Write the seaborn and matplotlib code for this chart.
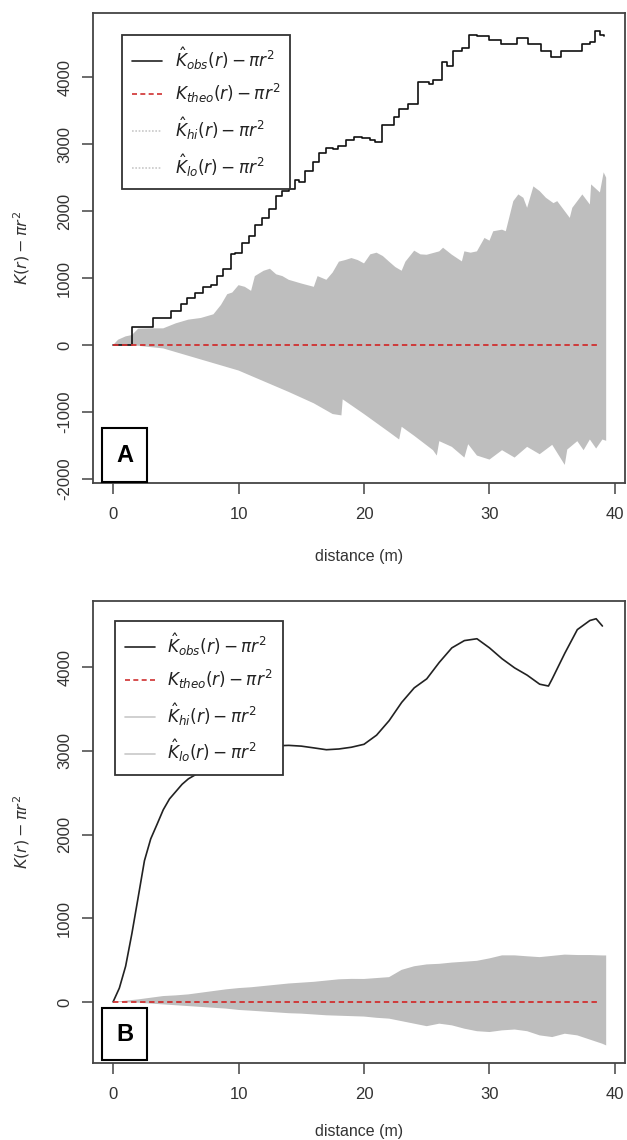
import matplotlib
matplotlib.use("Agg")
import matplotlib.pyplot as plt
import seaborn as sns
import numpy as np
import pandas as pd
from matplotlib.patches import Rectangle
from matplotlib.lines import Line2D

# ---------------- data: panel A ----------------
A_obs_r = [0, 1.4, 1.5, 2.9, 3.2, 4.2, 4.6, 5.4, 5.9, 6.5, 7.2, 7.8, 8.3, 8.8, 9.4, 9.7,
           10.3, 10.8, 11.3, 11.9, 12.4, 13.0, 13.5, 14.0, 14.5, 14.8, 15.3, 15.9, 16.4,
           17.0, 17.5, 17.9, 18.6, 19.2, 19.8, 20.5, 20.9, 21.4, 21.9, 22.4, 22.8, 23.5,
           24.0, 24.3, 25.2, 25.5, 26.2, 26.6, 27.1, 27.8, 28.4, 29.0, 30.0, 30.9, 32.2,
           33.1, 34.1, 34.9, 35.7, 36.6, 37.4, 38.0, 38.4, 38.8, 39.1]
A_obs_k = [0, 0, 270, 270, 400, 400, 515, 620, 700, 785, 870, 895, 1030, 1140, 1355, 1380,
           1520, 1625, 1790, 1900, 2030, 2220, 2300, 2330, 2470, 2440, 2600, 2740, 2870,
           2950, 2930, 2980, 3060, 3115, 3090, 3060, 3035, 3280, 3280, 3410, 3520, 3600,
           3600, 3930, 3900, 3960, 4230, 4170, 4390, 4440, 4630, 4610, 4550, 4500, 4580,
           4500, 4390, 4310, 4390, 4390, 4500, 4525, 4690, 4630, 4610]

A_hi_r = [0, 0.4, 1.0, 1.5, 2.0, 3.0, 4.0, 5.0, 6.0, 7.0, 8.0, 8.6, 9.1, 9.5, 10.0, 10.5,
          11.0, 11.3, 12.0, 12.5, 13.0, 13.5, 14.0, 15.0, 16.0, 16.3, 17.0, 17.5, 18.0,
          18.5, 19.0, 19.5, 20.0, 20.5, 21.0, 21.5, 22.0, 22.5, 23.0, 23.3, 24.0, 24.5,
          25.0, 26.0, 26.3, 27.0, 27.8, 28.0, 28.5, 29.0, 29.6, 30.0, 30.3, 31.0, 31.3,
          31.9, 32.3, 32.7, 33.0, 33.5, 34.0, 34.5, 35.1, 35.4, 36.0, 36.4, 36.6, 37.0,
          37.4, 38.0, 38.1, 38.8, 39.1, 39.3]
A_hi_k = [0, 80, 130, 150, 245, 250, 250, 325, 380, 405, 460, 600, 760, 785, 895, 870,
          810, 1030, 1110, 1140, 1057, 1030, 975, 920, 870, 1030, 975, 1084, 1246,
          1270, 1300, 1270, 1220, 1355, 1380, 1330, 1246, 1165, 1110, 1246, 1410, 1355,
          1349, 1400, 1454, 1350, 1250, 1400, 1380, 1400, 1600, 1560, 1700, 1724, 1700,
          2150, 2250, 2200, 2050, 2370, 2300, 2200, 2120, 2150, 2000, 1900, 2050, 2150,
          2250, 2100, 2400, 2280, 2580, 2500]

A_lo_r = [0, 2.0, 4.0, 6.0, 8.0, 10.0, 12.0, 14.0, 16.0, 17.5, 18.2, 18.3, 20.0, 22.0,
          22.8, 23.0, 24.0, 25.5, 25.8, 26.0, 27.0, 28.0, 28.3, 29.0, 30.0, 31.0, 32.0,
          33.0, 34.0, 35.0, 36.0, 36.2, 37.0, 37.5, 38.0, 38.5, 39.0, 39.3]
A_lo_k = [0, -10, -50, -160, -270, -380, -540, -700, -870, -1030, -1050, -810, -1030, -1300,
          -1410, -1220, -1355, -1570, -1650, -1435, -1520, -1680, -1480, -1650, -1710, -1570,
          -1680, -1520, -1630, -1490, -1790, -1560, -1435, -1570, -1410, -1545, -1410, -1430]

# ---------------- data: panel B ----------------
B_obs_r = [0, 0.5, 1, 1.5, 2, 2.5, 3, 3.5, 4, 4.5, 5, 5.5, 6, 7, 8, 9, 10, 11, 12, 13, 14,
           15, 16, 17, 18, 19, 20, 21, 22, 23, 24, 25, 26, 27, 28, 29, 30, 31, 32, 33, 34,
           34.7, 35, 36, 37, 38, 38.5, 39]
B_obs_k = [0, 165, 426, 817, 1250, 1687, 1948, 2120, 2296, 2426, 2513, 2600, 2665, 2752,
           2860, 2956, 3013, 3060, 3070, 3060, 3065, 3056, 3035, 3013, 3022, 3043, 3078,
           3187, 3360, 3578, 3752, 3860, 4057, 4230, 4317, 4339, 4230, 4100, 3991, 3904,
           3796, 3774, 3860, 4165, 4448, 4557, 4578, 4491]

B_env_r = [0, 1, 2, 3, 4, 5, 6, 7, 8, 9, 10, 11, 12, 13, 14, 15, 16, 17, 18, 19, 20, 21,
           22, 23, 24, 25, 26, 27, 28, 29, 30, 31, 32, 33, 34, 35, 36, 37, 38, 39, 39.3]
B_hi_k = [0, 15, 30, 50, 70, 78, 90, 110, 130, 150, 165, 175, 190, 205, 220, 230, 240,
          255, 270, 275, 274, 285, 296, 383, 426, 448, 455, 470, 480, 491, 520, 556, 556,
          545, 535, 550, 565, 560, 560, 555, 555]
B_lo_k = [0, -5, -10, -20, -30, -40, -50, -60, -70, -80, -96, -105, -115, -125, -135, -140,
          -150, -160, -165, -170, -175, -190, -200, -230, -260, -290, -260, -280, -320,
          -350, -360, -340, -330, -350, -400, -420, -380, -400, -450, -500, -520]

theo_r = [0, 38.8]
theo_k = [0, 0]

x_ticks = [0, 10, 20, 30, 40]
A_y_ticks = [-2000, -1000, 0, 1000, 2000, 3000, 4000]
B_y_ticks = [0, 1000, 2000, 3000, 4000]

labels_A = [r'$\hat{K}_{obs}(r)-\pi r^2$', r'$K_{theo}(r)-\pi r^2$',
            r'$\hat{K}_{hi}(r)-\pi r^2$', r'$\hat{K}_{lo}(r)-\pi r^2$']

# ---------------- style ----------------
sns.set_theme(style="white")
plt.rcParams['font.family'] = ['Liberation Sans', 'DejaVu Sans']
plt.rcParams['mathtext.fontset'] = 'dejavusans'
plt.rcParams['axes.unicode_minus'] = False
TXT = '#333333'
GREY = '#bebebe'

fig = plt.figure(figsize=(6.27, 11.4), dpi=100)
W, H = 627.0, 1140.0
axA = fig.add_axes([93 / W, 1 - 483 / H, 532 / W, 470 / H])
axB = fig.add_axes([93 / W, 1 - 1063 / H, 532 / W, 462 / H])


def envelope(ax, r_hi, hi, r_lo, lo):
    xs = list(r_hi) + list(r_lo)[::-1]
    ys = list(hi) + list(lo)[::-1]
    ax.fill(xs, ys, color=GREY, lw=0, zorder=1)


def style_axes(ax, ylim, yticks, letter, letter_box, leg_anchor, hi_ls, xlabpad):
    ax.set_xlim(-1.6, 40.8)
    ax.set_ylim(*ylim)
    ax.set_xticks(x_ticks)
    ax.set_yticks(yticks)
    for s in ax.spines.values():
        s.set_color('#444444')
        s.set_linewidth(1.3)
    ax.tick_params(axis='both', direction='out', length=8, width=1.1, color='#444444',
                   labelsize=12, labelcolor=TXT, pad=9, bottom=True, left=True)
    ax.tick_params(axis='y', labelrotation=90, pad=7)
    for lab in ax.get_yticklabels():
        lab.set_va('center')
    ax.set_xlabel('distance (m)', fontsize=11.5, color=TXT, labelpad=xlabpad)
    ax.set_ylabel(r'$K(r)-\pi r^2$', fontsize=11.5, color=TXT, labelpad=18)
    x0, y0, x1, y1 = letter_box
    ax.add_patch(Rectangle((x0, y0), x1 - x0, y1 - y0, transform=ax.transAxes,
                           facecolor='white', edgecolor='black', lw=1.5, zorder=5))
    ax.text((x0 + x1) / 2, (y0 + y1) / 2, letter, transform=ax.transAxes, ha='center',
            va='center', fontsize=17, fontweight='bold', color='black', zorder=6)
    handles = [Line2D([], [], color='#222222', lw=1.2),
               Line2D([], [], color='#d03030', lw=1.2, ls=(0, (3, 2))),
               Line2D([], [], color='#c8c8c8', lw=1.2, ls=hi_ls),
               Line2D([], [], color='#c8c8c8', lw=1.2, ls=hi_ls)]
    leg = ax.legend(handles, labels_A, loc='upper left', bbox_to_anchor=leg_anchor,
                    borderaxespad=0, frameon=True, fancybox=False, framealpha=1,
                    edgecolor='#333333', fontsize=12.2, handlelength=1.75,
                    handletextpad=0.75, labelspacing=0.6, borderpad=0.6)
    leg.get_frame().set_linewidth(1.3)
    for t in leg.get_texts():
        t.set_color('#222222')
    leg.set_zorder(4)


# ---------------- panel A ----------------
envelope(axA, A_hi_r, A_hi_k, A_lo_r, A_lo_k)
sns.lineplot(x=A_obs_r, y=A_obs_k, ax=axA, color='#111111', lw=1.2, estimator=None,
             drawstyle='steps-post', zorder=3)
sns.lineplot(x=theo_r, y=theo_k, ax=axA, color='#d03030', lw=1.3, estimator=None,
             dashes=False, ls=(0, (3, 2)), zorder=3)
style_axes(axA, (-2060, 4960), A_y_ticks, 'A', (0.017, 0.002, 0.1015, 0.117),
           (0.0545, 0.953), (0, (1, 1)), 20)

# ---------------- panel B ----------------
envelope(axB, B_env_r, B_hi_k, B_env_r, B_lo_k)
sns.lineplot(x=B_obs_r, y=B_obs_k, ax=axB, color='#222222', lw=1.2, estimator=None,
             zorder=3)
sns.lineplot(x=theo_r, y=theo_k, ax=axB, color='#d03030', lw=1.3, estimator=None,
             dashes=False, ls=(0, (3, 2)), zorder=3)
style_axes(axB, (-730, 4790), B_y_ticks, 'B', (0.017, 0.0065, 0.1015, 0.119),
           (0.041, 0.957), '-', 16)

fig.savefig('out.png', dpi=100)
